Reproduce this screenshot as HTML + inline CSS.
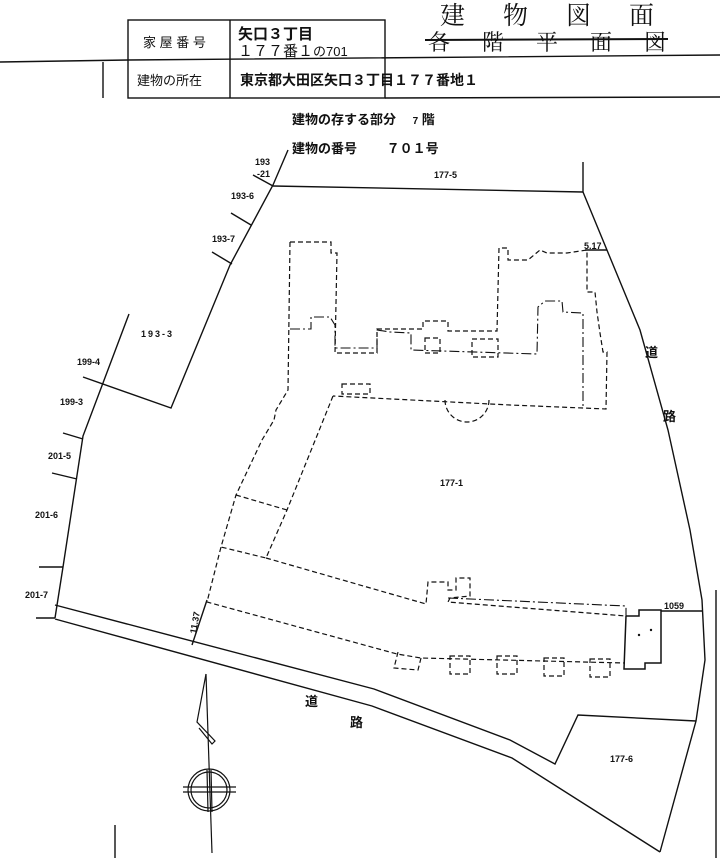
<!DOCTYPE html>
<html><head><meta charset="utf-8"><style>
html,body{margin:0;padding:0;background:#fff;}
svg{display:block;}
text{font-family:"Liberation Sans","Noto Sans CJK JP",sans-serif;fill:#111;}
.j{font-family:"Liberation Serif","Noto Serif CJK SC",serif;}
</style></head><body>
<svg width="720" height="858" viewBox="0 0 720 858" xmlns="http://www.w3.org/2000/svg">
<g stroke="#111" fill="none" stroke-width="1.4">
<rect x="128" y="20" width="257" height="78"/>
<line x1="230" y1="20" x2="230" y2="98"/>
<polyline points="0,62 128,60 720,55"/>
<line x1="385" y1="98" x2="720" y2="97"/>
<line x1="103" y1="62" x2="103" y2="98"/>
<line x1="425" y1="40" x2="668" y2="39" stroke-width="2"/>
<polyline points="288,150 273,185 230,265 171,408 83,377"/>
<polyline points="129,314 83,436 63,567 55,618"/>
<line x1="273" y1="186" x2="583" y2="192"/>
<polyline points="583,162 583,192 640,330 668,430 690,530 702,600 705,660 696,721 660,852"/>
<line x1="253" y1="175" x2="273" y2="186"/><line x1="231" y1="213" x2="251" y2="225"/>
<line x1="212" y1="252" x2="232" y2="264"/><line x1="63" y1="433" x2="83" y2="439"/>
<line x1="52" y1="473" x2="77" y2="479"/><line x1="39" y1="567" x2="63" y2="567"/>
<line x1="36" y1="618" x2="55" y2="618"/>
<line x1="585" y1="250" x2="607" y2="250"/>
<line x1="661" y1="611" x2="702" y2="611"/>
<line x1="207" y1="600" x2="192" y2="645"/>
<polyline points="55,605 374,689 510,740 555,764 578,715 696,721"/>
<polyline points="55,619 372,706 512,758 660,852"/>
<line x1="716" y1="590" x2="716" y2="858"/>
<line x1="115" y1="825" x2="115" y2="858"/>
</g>
<g stroke="#111" fill="none" stroke-width="1.2" stroke-dasharray="5,3">
<polyline points="290,242 331,242 331,253 337,253 335,353 377,353 377,329 423,329 423,321 448,321 448,331 497,331 499,248 508,248 508,260 528,260 540,250 547,253 567,253 587,250 587,292 595,292 597,312 600,333 603,352 607,352 606,409 583,408 510,405 333,396"/>
<polyline points="290,242 288,390 276,410 274,420 262,440 236,495 221,547 207,602 397,654 421,658 625,663"/>
<polyline points="333,396 287,510 266,558 221,547"/>
<polyline points="266,558 426,604 428,582 448,582 448,590 456,590 456,578 470,578 470,596 450,598 448,602 626,616"/>
<line x1="236" y1="495" x2="287" y2="510"/>
<path d="M445,400 A22,22 0 0 0 489,400"/>
<rect x="342" y="384" width="28" height="10"/>
<rect x="425" y="338" width="15" height="15"/>
<rect x="472" y="339" width="26" height="18"/>
<polyline points="398,652 394,668 418,670 421,658"/>
<rect x="450" y="656" width="20" height="18"/><rect x="497" y="656" width="20" height="18"/>
<rect x="544" y="658" width="20" height="18"/><rect x="590" y="659" width="20" height="18"/>
</g>
<g stroke="#111" fill="none" stroke-width="1.1" stroke-dasharray="10,3,2,3">
<polyline points="290,329 311,329 311,317 330,317 335,325 335,348 377,348 377,330 390,332 411,333 411,350 537,354 538,307 545,301 562,301 563,312 583,313 583,408"/>
<polyline points="448,598 626,606 626,616"/>
</g>
<g stroke="#111" fill="none" stroke-width="1.5">
<polyline points="626,616 639,616 639,610 661,610 661,663 645,663 645,669 624,669 626,616"/>
</g>
<circle cx="639" cy="635" r="1.2" fill="#111"/><circle cx="651" cy="630" r="1.2" fill="#111"/>
<g stroke="#111" fill="none" stroke-width="1.2">
<line x1="206" y1="674" x2="212" y2="853"/>
<polyline points="206,674 197,722 215,741 212,744 199,728"/>
<circle cx="209" cy="790" r="21"/><circle cx="209" cy="790" r="18"/>
<line x1="183" y1="787" x2="236" y2="787"/><line x1="183" y1="792" x2="236" y2="792"/>
<line x1="207" y1="770" x2="208" y2="812"/><line x1="211" y1="770" x2="212" y2="812"/>
</g>
<text x="143" y="47" font-size="13">家 屋 番 号</text>
<text x="137" y="85" font-size="13">建物の所在</text>
<text x="238" y="39" font-size="15" font-weight="bold">矢口３丁目</text>
<text x="238" y="56" font-size="15">１７７番１<tspan font-size="13">の701</tspan></text>
<text x="240" y="85" font-size="14" font-weight="bold">東京都大田区矢口３丁目１７７番地１</text>
<text class="j" x="440" y="24" font-size="25" letter-spacing="38">建物図面</text>
<text class="j" x="428" y="50" font-size="22" letter-spacing="32">各階平面図</text>
<text x="292" y="124" font-size="13" font-weight="bold">建物の存する部分　 <tspan font-size="10">7</tspan> 階</text>
<text x="292" y="153" font-size="13" font-weight="bold">建物の番号　　 ７０１号</text>
<g font-size="9" font-weight="bold">
<text x="255" y="165">193</text><text x="257" y="177">-21</text>
<text x="231" y="199">193-6</text><text x="212" y="242">193-7</text>
<text x="141" y="337" letter-spacing="2">193-3</text>
<text x="77" y="365">199-4</text><text x="60" y="405">199-3</text>
<text x="48" y="459">201-5</text><text x="35" y="518">201-6</text>
<text x="25" y="598">201-7</text>
<text x="434" y="178">177-5</text><text x="440" y="486">177-1</text>
<text x="610" y="762">177-6</text>
<text x="584" y="249">5.17</text><text x="664" y="609">1059</text>
<text transform="translate(196,634) rotate(-80)">11.37</text>
</g>
<g font-size="13" font-weight="bold">
<text x="645" y="357">道</text><text x="663" y="421">路</text>
<text x="305" y="706">道</text><text x="350" y="727">路</text>
</g>
</svg>
</body></html>
